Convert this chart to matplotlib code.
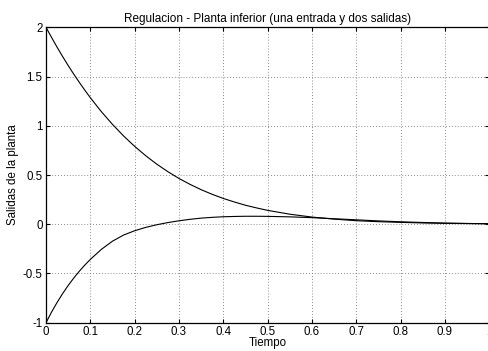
import matplotlib
matplotlib.use('Agg')
import matplotlib.pyplot as plt

plt.rcParams['font.family'] = ['Liberation Sans', 'DejaVu Sans']

# time samples and the two plant outputs
t = [0, 0.0125, 0.025, 0.0375, 0.05, 0.0625, 0.075, 0.0875, 0.1, 0.125, 0.15,
     0.175, 0.2, 0.225, 0.25, 0.275, 0.3, 0.325, 0.35, 0.375, 0.4, 0.425, 0.45,
     0.475, 0.5, 0.55, 0.6, 0.65, 0.7, 0.75, 0.8, 0.85, 0.9, 0.95, 1.0]
salida1 = [2.0, 1.897, 1.798, 1.703, 1.612, 1.525, 1.442, 1.362, 1.285, 1.143,
           1.014, 0.897, 0.791, 0.696, 0.610, 0.534, 0.465, 0.405, 0.351, 0.304,
           0.262, 0.226, 0.193, 0.166, 0.141, 0.102, 0.073, 0.052, 0.036, 0.026,
           0.019, 0.013, 0.009, 0.007, 0.005]
salida2 = [-1.0, -0.892, -0.794, -0.704, -0.622, -0.547, -0.478, -0.415, -0.357,
           -0.255, -0.172, -0.110, -0.066, -0.032, -0.005, 0.017, 0.035, 0.050,
           0.062, 0.070, 0.076, 0.079, 0.081, 0.081, 0.080, 0.075, 0.067, 0.056,
           0.045, 0.034, 0.025, 0.018, 0.012, 0.008, 0.005]

xticks = [0, 0.1, 0.2, 0.3, 0.4, 0.5, 0.6, 0.7, 0.8, 0.9, 1]
xlabels = ['0', '0.1', '0.2', '0.3', '0.4', '0.5', '0.6', '0.7', '0.8', '0.9', '1']
yticks = [-1, -0.5, 0, 0.5, 1, 1.5, 2]
ylabels = ['-1', '-0.5', '0', '0.5', '1', '1.5', '2']

fig = plt.figure(figsize=(4.88, 3.51), dpi=100)
ax = fig.add_axes([0.0943, 0.0806, 0.908, 0.8416])

ax.plot(t, salida1, color='black', linewidth=0.8)
ax.plot(t, salida2, color='black', linewidth=0.8)

ax.set_xlim(0, 1)
ax.set_ylim(-1, 2)
ax.set_xticks(xticks)
ax.set_xticklabels(xlabels)
ax.set_yticks(yticks)
ax.set_yticklabels(ylabels)

ax.grid(True, linestyle=(0, (1, 2.5)), color='#666666', linewidth=0.6)
ax.tick_params(direction='in', length=3, width=0.8, labelsize=8.3,
               top=True, right=True, pad=2.5)
for s in ax.spines.values():
    s.set_linewidth(0.9)

ax.set_title('Regulacion - Planta inferior (una entrada y dos salidas)',
             fontsize=8.5, pad=4)
ax.set_xlabel('Tiempo', fontsize=8.3, labelpad=-1)
ax.set_ylabel('Salidas de la planta', fontsize=8.3, labelpad=3)

fig.savefig('out.png', dpi=100)
